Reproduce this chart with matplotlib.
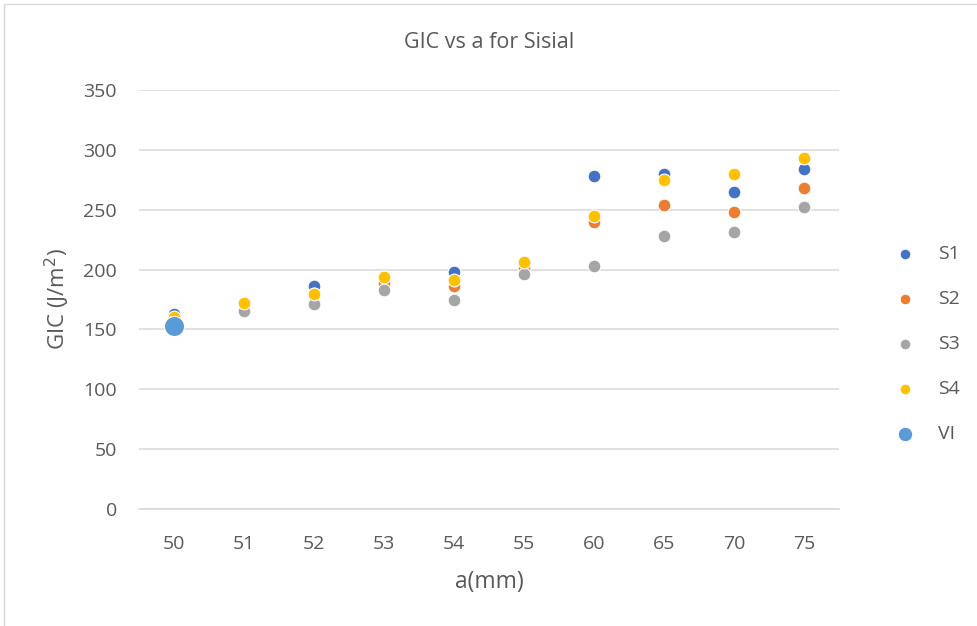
import numpy as np
import matplotlib
matplotlib.use("Agg")
import matplotlib.pyplot as plt
from matplotlib.patches import Rectangle

categories = ["50", "51", "52", "53", "54", "55", "60", "65", "70", "75"]
s1 = [163, 172, 186, 194, 198, 206, 278, 280, 265, 284]
s2 = [158, 171, 180, 189, 186, 201, 240, 254, 248, 268]
s3 = [156, 165, 171, 183, 175, 196, 203, 228, 231, 252]
s4 = [160, 172, 180, 194, 191, 206, 245, 275, 280, 293]
vi = [153, np.nan, np.nan, np.nan, np.nan, np.nan, np.nan, np.nan, np.nan, np.nan]
series_names = ["S1", "S2", "S3", "S4", "VI"]
colors = ["#4472C4", "#ED7D31", "#A5A5A5", "#FFC000", "#5B9BD5"]

plt.rcParams['font.family'] = ['Open Sans', 'DejaVu Sans']
txt = "#595959"

W, H = 977, 626
fig = plt.figure(figsize=(W / 100, H / 100), dpi=100)
fig.patches.append(Rectangle((4 / W, -0.1), 1.2, (H - 4) / H + 0.1, transform=fig.transFigure,
                             fill=False, edgecolor="#D9D9D9", linewidth=1.0))

ax = fig.add_axes([139 / W, 117 / H, 700 / W, 419 / H])
x = np.arange(len(categories))
allser = [s1, s2, s3, s4, vi]
for i, (name, vals, c) in enumerate(zip(series_names, allser, colors)):
    size = 210 if name == "VI" else 85
    ax.scatter(x, vals, s=size, color=c, edgecolors="white", linewidths=0.8,
               label=name, zorder=3 + i)

ax.set_xlim(-0.5, len(categories) - 0.5)
ax.set_ylim(0, 350)
ax.set_yticks(np.arange(0, 351, 50))
ax.set_xticks(x)
ax.set_xticklabels(categories)
ax.grid(axis="y", color="#D9D9D9", linewidth=1.1, zorder=0)
ax.set_axisbelow(True)
for sp in ["top", "right", "left"]:
    ax.spines[sp].set_visible(False)
ax.spines["bottom"].set_color("#D9D9D9")
ax.spines["bottom"].set_linewidth(1.1)
ax.tick_params(length=0, labelsize=14, colors=txt)
ax.tick_params(axis="x", pad=19)
ax.tick_params(axis="y", pad=16)

ax.set_title("GIC vs a for Sisial", fontsize=15.5, color=txt, va="center",
             y=1 + (90 - 43) / 419, pad=0)
ax.set_xlabel("a(mm)", fontsize=16.5, color=txt)
ax.xaxis.label.set_va("center")
ax.xaxis.set_label_coords(0.5, (626 - 582 - 117) / 419)
ax.set_ylabel("GIC (J/m$^{2}$)", fontsize=16, color=txt)
ax.yaxis.label.set_va("center")
ax.yaxis.set_label_coords((57 - 139) / 700, 0.5)

leg = ax.legend(loc="center left", bbox_to_anchor=(886 / W, (H - 344) / H), bbox_transform=fig.transFigure,
                frameon=False, fontsize=14, labelcolor=txt, labelspacing=1.38,
                handletextpad=0.7, borderaxespad=0, borderpad=0)
for h, name in zip(leg.legend_handles, series_names):
    h.set_sizes([110 if name == "VI" else 60])

fig.savefig("out.png", dpi=100)
